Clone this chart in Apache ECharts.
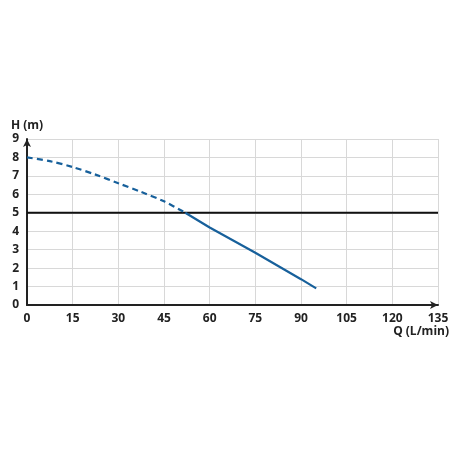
<!DOCTYPE html>
<html>
<head>
<meta charset="utf-8">
<script src="https://cdn.jsdelivr.net/npm/echarts@6/dist/echarts.min.js"></script>
<style>
    html, body { margin: 0; padding: 0; background: #fff; }
    #chart { width: 460px; height: 460px; }
</style>
</head>
<body>
<div id="chart"></div>
<script>
// pump curve
var dashedPart = [[0, 8], [7.5, 7.8], [15, 7.48], [22.5, 7.07], [30, 6.6], [37.5, 6.13], [45, 5.62], [52, 5]];
var solidPart = [[52, 5], [60, 4.2], [75, 2.83], [90, 1.4], [95, 0.9]];
var refLine = [[0, 5], [135, 5]];
var xTicks = [0, 15, 30, 45, 60, 75, 90, 105, 120, 135];
var yTicks = [0, 1, 2, 3, 4, 5, 6, 7, 8, 9];

var chart = echarts.init(document.getElementById('chart'));
var font = { fontFamily: 'Open Sans', fontWeight: 'bold', fontSize: 12, color: '#222' };
var blue = '#17609b';

chart.setOption({
    animation: false,
    grid: { left: 27, right: 22, top: 139, bottom: 155 },
    xAxis: {
        type: 'value',
        min: xTicks[0],
        max: xTicks[xTicks.length - 1],
        interval: 15,
        name: 'Q (L/min)',
        nameLocation: 'end',
        nameGap: 11,
        nameTextStyle: Object.assign({}, font, { align: 'right', verticalAlign: 'top', padding: [21, 0, 0, 0] }),
        axisLine: { lineStyle: { color: '#222', width: 2 }, symbol: ['none', 'arrow'], symbolSize: [6, 8] },
        axisTick: { show: false },
        axisLabel: Object.assign({}, font, { margin: 8 }),
        splitLine: { show: true, lineStyle: { color: '#d8d8d8', width: 1 } }
    },
    yAxis: {
        type: 'value',
        min: yTicks[0],
        max: yTicks[yTicks.length - 1],
        interval: 1,
        name: 'H (m)',
        nameLocation: 'end',
        nameGap: 7,
        nameTextStyle: Object.assign({}, font, { align: 'center' }),
        axisLine: { lineStyle: { color: '#222', width: 2 }, symbol: ['none', 'arrow'], symbolSize: [6, 8] },
        axisTick: { show: false },
        axisLabel: Object.assign({}, font, { margin: 8 }),
        splitLine: { show: true, lineStyle: { color: '#d8d8d8', width: 1 } }
    },
    series: [
        {
            type: 'line',
            data: refLine,
            symbol: 'none',
            lineStyle: { color: '#111', width: 2 },
            z: 3
        },
        {
            type: 'line',
            data: dashedPart,
            symbol: 'none',
            smooth: 0.3,
            lineStyle: { color: blue, width: 2.2, type: [6, 4] },
            z: 4
        },
        {
            type: 'line',
            data: solidPart,
            symbol: 'none',
            smooth: false,
            lineStyle: { color: blue, width: 2.2 },
            z: 4
        }
    ]
});
</script>
</body>
</html>
